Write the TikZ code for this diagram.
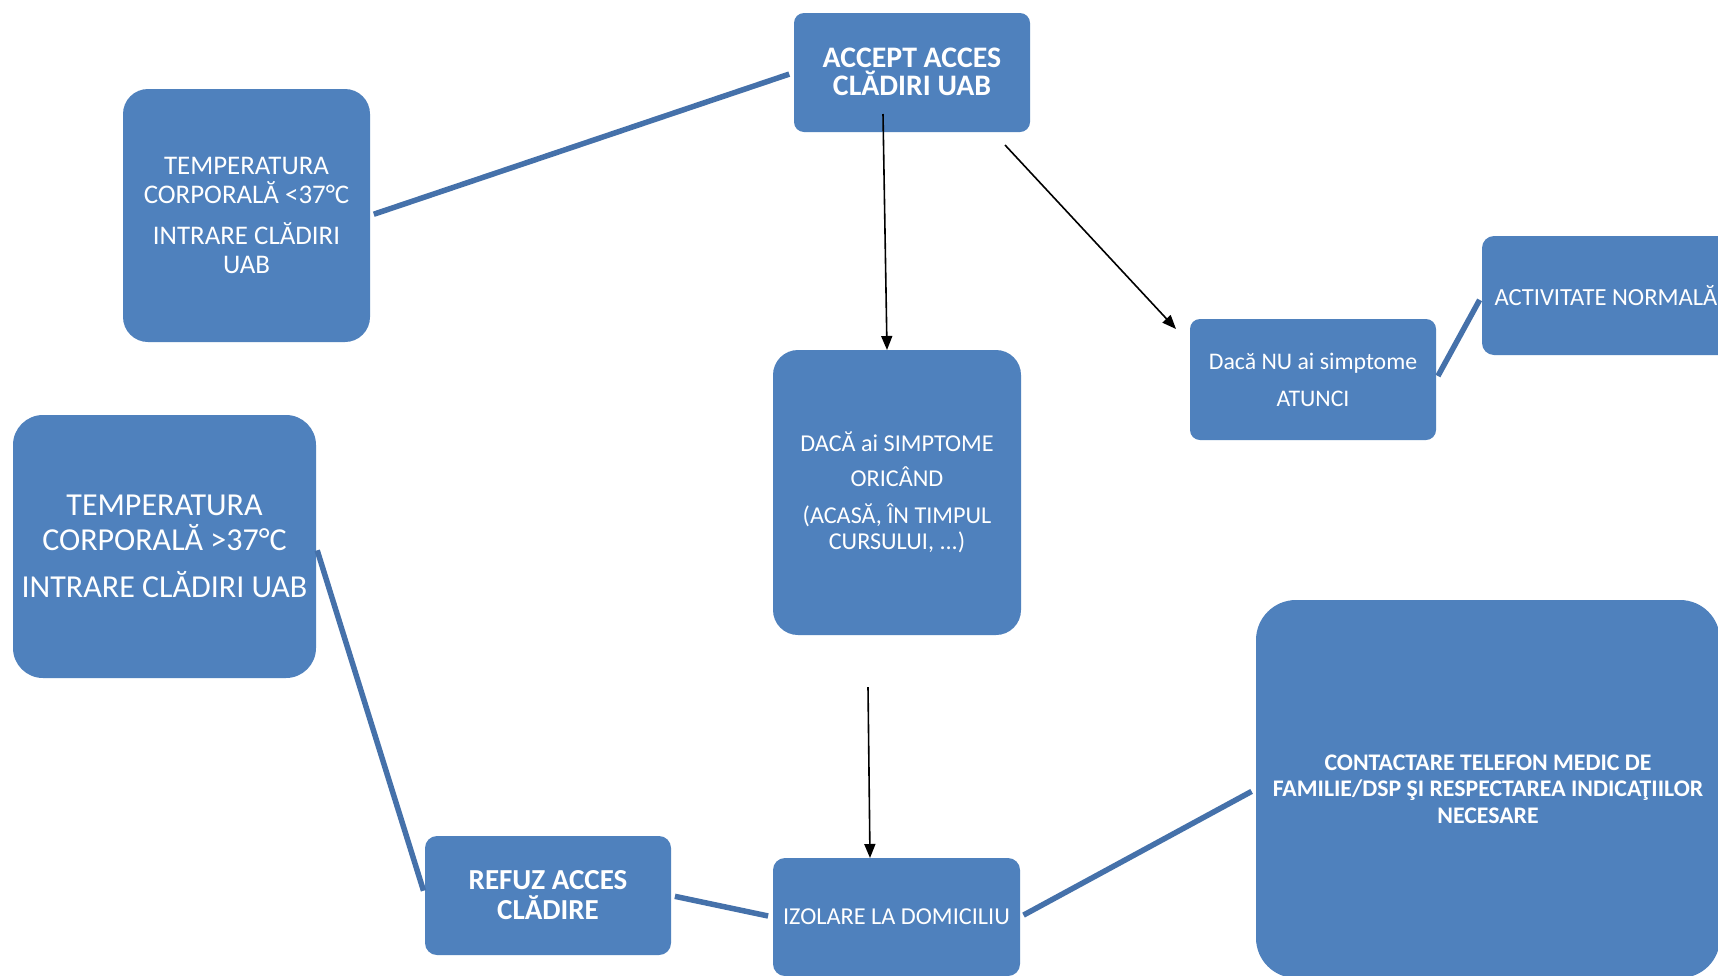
\documentclass[tikz,border=0pt]{standalone}
\usepackage{fontspec}
\setmainfont{Carlito}
\usetikzlibrary{arrows.meta,calc}
\definecolor{boxblue}{HTML}{4F81BD}
\definecolor{linkblue}{HTML}{4571AA}
\tikzset{
 box/.style={fill=boxblue, text=white, align=center, inner sep=0pt, outer sep=0pt},
 link/.style={draw=linkblue, line width=5.5pt, shorten <=4pt, shorten >=5pt},
 arr/.style={draw=black, line width=1.6pt, -{Triangle[length=14pt,width=11pt]}}
}
\newcommand{\fsz}[2]{\fontsize{#1}{#2}\selectfont}
\begin{document}
\begin{tikzpicture}[x=1pt,y=-1pt]
\clip (0,0) rectangle (1718,975);
\fill[white] (0,0) rectangle (1718,975);

\node[box, minimum width=236pt, minimum height=119pt, rounded corners=10pt, font=\bfseries\fsz{29.8}{28.5}, text depth=1.5pt] (acc) at (912,72.5) {ACCEPT ACCES\\CLĂDIRI UAB};
\node[box, minimum width=247pt, minimum height=253pt, rounded corners=25pt, font=\fsz{26.9}{29.5}] (lt) at (246.5,215.5) {TEMPERATURA\\CORPORALĂ <37°C\\[11pt]INTRARE CLĂDIRI\\UAB};
\node[box, minimum width=248pt, minimum height=285pt, rounded corners=25pt, font=\fsz{24.2}{26.5}] (dac) at (897,492.5) {DACĂ ai SIMPTOME\\[8.5pt]ORICÂND\\[10.5pt](ACASĂ, ÎN TIMPUL\\CURSULUI, ...)};
\node[box, minimum width=246pt, minimum height=121pt, rounded corners=10pt, font=\fsz{23.8}{25}] (nu) at (1313,379.5) {Dacă NU ai simptome\\[12pt]ATUNCI};
\node[box, minimum width=248pt, minimum height=119pt, rounded corners=12pt, font=\fsz{24.6}{26.5}] (act) at (1606,295.5) {ACTIVITATE NORMALĂ};
\node[box, minimum width=303pt, minimum height=263pt, rounded corners=30pt, font=\fsz{32}{35}] (gt) at (164.5,546.5) {TEMPERATURA\\CORPORALĂ >37°C\\[12pt]INTRARE CLĂDIRI UAB};
\node[box, minimum width=246pt, minimum height=119pt, rounded corners=12pt, font=\bfseries\fsz{29}{30}] (ref) at (548,895.5) {REFUZ ACCES\\CLĂDIRE};
\node[box, minimum width=247pt, minimum height=118pt, rounded corners=12pt, font=\fsz{24.3}{26.5}] (iz) at (896.5,917) {IZOLARE LA DOMICILIU};
\node[box, minimum width=464pt, minimum height=378pt, rounded corners=40pt, font=\bfseries\fsz{23.8}{26.5}] (con) at (1488,789) {CONTACTARE TELEFON MEDIC DE\\FAMILIE/DSP ŞI RESPECTAREA INDICAŢIILOR\\NECESARE};

\draw[link] (lt.east) -- (acc.west);
\draw[link] (gt.east) -- (ref.west);
\draw[link] (ref.east) -- (iz.west);
\draw[link] (iz.east) -- (con.west);
\draw[link] (nu.east) -- (act.west);

\coordinate (f0) at (883,114);
\coordinate (g0) at (1005,145);
\coordinate (h0) at (868,687);
\draw[arr] (f0) -- ($(dac.north)+(-10,0)$);
\draw[arr] (g0) -- ($(nu.north west)+(-14,10)$);
\draw[arr] (h0) -- ($(iz.north)+(-26.5,0)$);
\end{tikzpicture}
\end{document}
